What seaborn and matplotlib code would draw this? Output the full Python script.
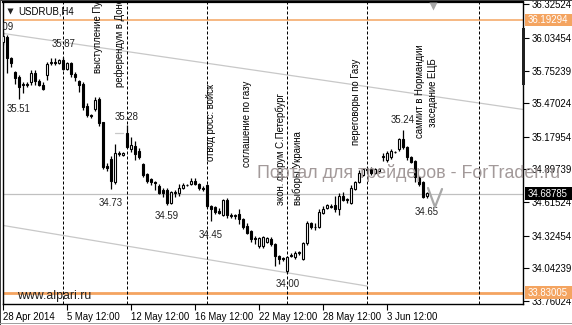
import numpy as np
import pandas as pd
import matplotlib
matplotlib.use("Agg")
import matplotlib.pyplot as plt
import matplotlib.transforms as mtransforms
from matplotlib.patches import Rectangle
import seaborn as sns

# ---------------- data (USDRUB, H4) ----------------
opens = [36.00, 36.04, 35.86, 35.74, 35.70, 35.63, 35.63, 35.65, 35.73, 35.66,
         35.63, 35.71, 35.82, 35.83, 35.82, 35.84, 35.77, 35.82, 35.72, 35.66,
         35.64, 35.45, 35.37, 35.42, 35.51, 35.31, 34.93, 34.99, 34.79, 35.04,
         35.02, 35.21, 35.07, 35.10, 35.06, 34.94, 34.86, 34.81, 34.79, 34.75,
         34.72, 34.72, 34.61, 34.69, 34.69, 34.74, 34.76, 34.77, 34.80, 34.77,
         34.74, 34.76, 34.58, 34.57, 34.54, 34.50, 34.63, 34.50, 34.49, 34.51,
         34.47, 34.41, 34.36, 34.30, 34.23, 34.23, 34.27, 34.29, 34.25, 34.15,
         34.13, 34.02, 34.16, 34.14, 34.17, 34.12, 34.26, 34.43, 34.40, 34.40,
         34.52, 34.56, 34.57, 34.59, 34.55, 34.67, 34.63, 34.61, 34.73, 34.79,
         34.85, 34.90, 34.90, 34.87, 34.88, 35.00, 34.98, 35.00, 35.05, 35.07,
         35.16, 35.09, 35.00, 34.97, 34.83, 34.79, 34.67]
highs = [36.09, 36.06, 35.87, 35.75, 35.71, 35.65, 35.65, 35.76, 35.76, 35.68,
         35.65, 35.83, 35.86, 35.86, 35.85, 35.87, 35.83, 35.83, 35.74, 35.67,
         35.65, 35.47, 35.38, 35.52, 35.52, 35.31, 34.95, 35.01, 35.12, 35.06,
         35.05, 35.28, 35.18, 35.14, 35.08, 34.95, 34.87, 34.82, 34.80, 34.77,
         34.74, 34.74, 34.71, 34.72, 34.77, 34.78, 34.77, 34.82, 34.82, 34.78,
         34.75, 34.77, 34.59, 34.58, 34.56, 34.64, 34.65, 34.52, 34.51, 34.55,
         34.48, 34.43, 34.37, 34.32, 34.31, 34.32, 34.31, 34.31, 34.26, 34.16,
         34.14, 34.15, 34.17, 34.19, 34.19, 34.27, 34.45, 34.44, 34.43, 34.55,
         34.58, 34.60, 34.60, 34.67, 34.69, 34.70, 34.65, 34.76, 34.80, 34.89,
         34.91, 34.92, 34.92, 34.91, 34.91, 35.04, 35.06, 35.07, 35.06, 35.17,
         35.24, 35.10, 35.01, 34.98, 34.84, 34.80, 34.70]
lows = [35.97, 35.73, 35.78, 35.64, 35.51, 35.56, 35.61, 35.63, 35.63, 35.62,
        35.58, 35.67, 35.80, 35.80, 35.81, 35.76, 35.76, 35.70, 35.66, 35.57,
        35.41, 35.35, 35.34, 35.40, 35.27, 34.90, 34.88, 34.73, 34.77, 35.01,
        35.01, 35.08, 35.05, 34.98, 34.99, 34.83, 34.78, 34.76, 34.72, 34.68,
        34.66, 34.59, 34.60, 34.66, 34.67, 34.73, 34.75, 34.76, 34.76, 34.72,
        34.71, 34.56, 34.45, 34.51, 34.51, 34.49, 34.48, 34.48, 34.47, 34.42,
        34.38, 34.34, 34.27, 34.25, 34.22, 34.22, 34.26, 34.23, 34.06, 34.08,
        34.10, 34.00, 34.14, 34.12, 34.16, 34.11, 34.24, 34.38, 34.37, 34.39,
        34.51, 34.55, 34.56, 34.53, 34.50, 34.62, 34.61, 34.60, 34.72, 34.78,
        34.84, 34.87, 34.85, 34.86, 34.87, 34.97, 34.96, 34.99, 35.04, 35.06,
        35.07, 34.98, 34.95, 34.79, 34.75, 34.65, 34.65]
closes = [36.05, 35.86, 35.82, 35.69, 35.61, 35.64, 35.64, 35.73, 35.66, 35.63,
          35.59, 35.81, 35.83, 35.82, 35.84, 35.77, 35.82, 35.72, 35.70, 35.63,
          35.44, 35.37, 35.36, 35.50, 35.30, 34.92, 34.91, 34.80, 35.04, 35.03,
          35.04, 35.09, 35.11, 35.03, 35.00, 34.85, 34.80, 34.79, 34.78, 34.69,
          34.69, 34.61, 34.70, 34.70, 34.74, 34.76, 34.76, 34.80, 34.77, 34.74,
          34.73, 34.58, 34.55, 34.53, 34.52, 34.63, 34.50, 34.49, 34.50, 34.47,
          34.40, 34.35, 34.29, 34.29, 34.30, 34.31, 34.30, 34.25, 34.15, 34.12,
          34.12, 34.14, 34.15, 34.17, 34.18, 34.26, 34.43, 34.40, 34.40, 34.53,
          34.55, 34.59, 34.58, 34.55, 34.67, 34.63, 34.64, 34.74, 34.79, 34.87,
          34.90, 34.89, 34.87, 34.90, 34.90, 35.01, 35.04, 35.06, 35.05, 35.16,
          35.09, 35.00, 34.96, 34.83, 34.77, 34.66, 34.69]

price_ticks = [36.32524, 36.03454, 35.75239, 35.47024, 35.17954,
               34.89739, 34.61524, 34.32454, 34.04239, 33.76024]
date_tick_bars = [0, 16, 32, 48, 64, 80, 96]
date_labels = ["28 Apr 2014", "5 May 12:00", "12 May 12:00", "16 May 12:00",
               "22 May 12:00", "28 May 12:00", "3 Jun 12:00"]

level_high = 36.19294
level_low = 33.83005
last_price = 34.68785

event_bars = [15, 31, 51, 71, 91, 119]
event_texts = ["выступление Путина", "референдум в Донецке", "отвод росс. войск",
               "соглашение по газу", "экон. форум С.Петербург", "выборы Украина",
               "переговоры по Газу", "саммит в Нормандии", "заседание ЕЦБ"]
event_text_x = [23.7, 29.2, 52.0, 61.0, 69.5, 73.7, 88.2, 104.2, 107.5]
event_text_y = [35.731, 35.610, 34.970, 34.918, 34.589, 34.589, 35.108, 35.169, 35.264]

hl_texts = ["36.09", "35.87", "35.51", "35.28", "34.73", "34.59", "34.45", "34.00", "35.24", "34.65"]
hl_x = [2.6, 15.1, 4.0, 31.0, 27.0, 41.0, 52.0, 71.25, 100.0, 106.0]
hl_y = [36.13, 35.983, 35.42, 35.35, 34.606, 34.494, 34.329, 33.905, 35.325, 34.528]

upper_line_x = [-0.75, 130.0]
upper_line_y = [36.078, 35.416]
lower_line_x = [-0.75, 91.0]
lower_line_y = [34.416, 33.887]

# ---------------- styling ----------------
sns.set_theme(style="white")
plt.rcParams['font.family'] = ['Liberation Sans', 'DejaVu Sans']

W, H = 572, 325
fig = plt.figure(figsize=(W / 100, H / 100), dpi=100)
fig.patch.set_facecolor('white')
ax = fig.add_axes([3 / W, 21 / H, 520 / W, 302 / H])
ax.set_facecolor('white')

YMIN, YMAX = 33.7315, 36.3462
ax.set_xlim(0, 130)
ax.set_ylim(YMIN, YMAX)

df = pd.DataFrame({"bar": np.arange(len(opens)), "open": opens, "high": highs,
                   "low": lows, "close": closes})
df["bottom"] = df[["open", "close"]].min(axis=1)
df["height"] = (df["close"] - df["open"]).abs()
up = df["close"] >= df["open"]

# channel lines
lines_df = pd.DataFrame({"x": upper_line_x + lower_line_x,
                         "y": upper_line_y + lower_line_y,
                         "line": ["u", "u", "l", "l"]})
sns.lineplot(data=lines_df, x="x", y="y", units="line", estimator=None,
             color="#c8c8c8", lw=0.9, ax=ax, legend=False, zorder=1)
ax.plot([28, 30], [35.212, 35.212], color="#c8c8c8", lw=0.9, zorder=1)

# horizontal levels
ax.axhline(level_high, color="#f4a460", lw=1.1, zorder=1)
ax.axhline(level_low, color="#f4a460", lw=2.0, zorder=1)
ax.axhline(last_price, color="#c0c0c0", lw=0.9, zorder=1)

# event lines
for b in event_bars:
    ax.axvline(b, color="black", lw=0.72, ls=(0, (3, 2)), zorder=2)

# candles
ax.vlines(df["bar"], df["low"], df["high"], color="black", lw=0.9, zorder=3)
ax.bar(df.loc[up, "bar"], df.loc[up, "height"], bottom=df.loc[up, "bottom"],
       width=0.62, facecolor="white", edgecolor="black", lw=0.8, zorder=4)
ax.bar(df.loc[~up, "bar"], df.loc[~up, "height"], bottom=df.loc[~up, "bottom"],
       width=0.62, facecolor="black", edgecolor="black", lw=0.8, zorder=4)

# event texts
for t, x, y in zip(event_texts, event_text_x, event_text_y):
    ax.text(x, y, t, rotation=90, ha="center", va="bottom", fontsize=6.9,
            color="black", zorder=5, clip_on=True)

# high/low labels
for t, x, y in zip(hl_texts, hl_x, hl_y):
    ax.text(x, y, t, ha="right" if t == "36.09" else "center", va="center",
            fontsize=6.9, color="#202020", zorder=5, clip_on=True)

# V mark (gray drawing)
ax.plot([106.25, 108.0, 109.75], [34.736, 34.571, 34.727], color="#a8a8a8", lw=1.6, zorder=5)

# shift marker and header
ax.plot([107.5], [1 - 4 / 302], marker="v", ms=6, color="#a8a8a8", mec="none",
        transform=mtransforms.blended_transform_factory(ax.transData, ax.transAxes),
        clip_on=False, zorder=6)
ax.plot([7 / 520], [1 - 9 / 302], marker="v", ms=4.5, color="#202020", mec="none",
        transform=ax.transAxes, clip_on=False, zorder=6)
ax.text(15 / 520, 1 - 9 / 302, "USDRUB,H4", transform=ax.transAxes, ha="left",
        va="center", fontsize=6.9, color="black", zorder=6)
ax.text(14 / 520, 8 / 302, "www.alpari.ru", transform=ax.transAxes, ha="left",
        va="center", fontsize=8.8, color="#202020", zorder=6)

# axes & ticks
ax.yaxis.tick_right()
ax.set_yticks(price_ticks)
ax.set_yticklabels([f"{v:.5f}" for v in price_ticks])
ax.set_xticks(date_tick_bars)
ax.set_xticklabels(date_labels, ha="left")
ax.tick_params(axis="y", right=True, left=False, length=4, width=0.8, pad=2,
               labelsize=6.9, colors="black")
ax.tick_params(axis="x", bottom=True, length=4, width=0.8, pad=2,
               labelsize=6.9, colors="black")
for s in ax.spines.values():
    s.set_color("black")
    s.set_linewidth(1.0)
ax.spines["top"].set_linewidth(1.6)
ax.grid(False)
ax.set_xlabel("")
ax.set_ylabel("")

# price-axis boxes
bt = mtransforms.blended_transform_factory(ax.transAxes, ax.transData)
for val, col in [(level_high, "#f4a460"), (level_low, "#f4a460"), (last_price, "black")]:
    hh = 6.2 * (YMAX - YMIN) / 302
    ax.add_patch(Rectangle((1 + 2 / 520, val - hh), 47 / 520, 2 * hh, transform=bt,
                           facecolor=col, edgecolor="none", clip_on=False, zorder=7))
    ax.text(1 + 5 / 520, val, f"{val:.5f}", transform=bt, ha="left", va="center",
            fontsize=6.9, color="white", zorder=8, clip_on=False)

# scroll marker on price axis
fig.add_artist(Rectangle((522 / W, 1 - 85 / H), 3 / W, 57 / H, transform=fig.transFigure,
                         facecolor="#202020", edgecolor="none", zorder=9))
# window border lines
fig.add_artist(Rectangle((0, 0), 1 / W, 1, transform=fig.transFigure,
                         facecolor="#404040", edgecolor="none"))
fig.add_artist(Rectangle((0, 1 - 1 / H), 1, 1 / H, transform=fig.transFigure,
                         facecolor="#404040", edgecolor="none"))
fig.add_artist(Rectangle((0, 1 / H), 1, 1 / H, transform=fig.transFigure,
                         facecolor="#a0a0a0", edgecolor="none"))

# watermark
fig.text(257 / W, 1 - 173 / H, "Портал для трейдеров - ForTrader.ru", ha="left",
         va="center", fontsize=12.9, color="#a39a9a", zorder=10)

fig.savefig("out.png", dpi=100, facecolor="white")
